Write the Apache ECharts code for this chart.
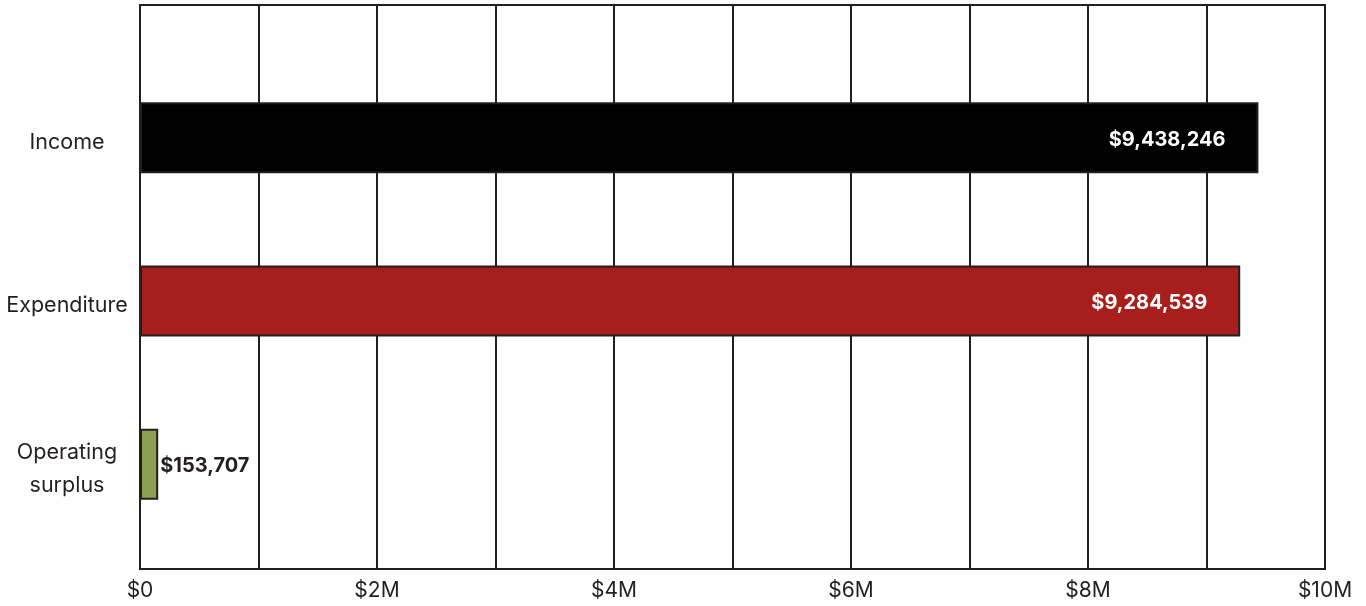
<!DOCTYPE html>
<html><head><meta charset="utf-8">
<script src="https://cdn.jsdelivr.net/npm/echarts@6/dist/echarts.min.js"></script>
<style>html,body{margin:0;padding:0;background:#fff}#c{width:1366px;height:606px}</style>
</head><body><div id="c"></div>
<script>
const categories = ['Income', 'Expenditure', 'Operating\nsurplus'];
const values = [9438246, 9284539, 153707];
const barColors = ['#000000', '#a81e1c', '#8c9e50'];
const valueLabels = ['$9,438,246', '$9,284,539', '$153,707'];
const tickLabels = ['$0', '$2M', '$4M', '$6M', '$8M', '$10M'];

const ink = '#231f20';
const font = 'Inter, "Noto Sans", sans-serif';
const chart = echarts.init(document.getElementById('c'));
chart.setOption({
  animation: false,
  grid: [
    {left: 140, right: 41, top: 5, bottom: 37, show: true, borderColor: ink, borderWidth: 2, backgroundColor: 'transparent'},
    {left: 140, right: 41, top: 56, bottom: 60}
  ],
  xAxis: [
    {gridIndex: 0, type: 'value', min: 0, max: 10000000, interval: 1000000,
     axisLine: {show: true, lineStyle: {color: ink, width: 2}},
     axisTick: {show: false},
     splitLine: {show: true, lineStyle: {color: ink, width: 2}},
     axisLabel: {margin: 11, color: ink, fontSize: 21, fontFamily: font,
       formatter: function (v) { const m = Math.round(v / 1000000); return m % 2 === 0 ? tickLabels[m / 2] : ''; }}},
    {gridIndex: 1, type: 'value', min: 0, max: 10000000, show: false}
  ],
  yAxis: [
    {gridIndex: 0, type: 'category', data: categories, show: false},
    {gridIndex: 1, type: 'category', data: categories, inverse: true,
     axisLine: {show: false}, axisTick: {show: false}, splitLine: {show: false},
     axisLabel: {margin: 73, align: 'center', color: ink, fontFamily: font,
       formatter: function (v) {
         return '{s| }\n' + v.split('\n').map(function (t) { return '{a|' + t + '}'; }).join('\n');
       },
       rich: {
         s: {fontSize: 4, lineHeight: 9},
         a: {fontSize: 21.5, lineHeight: 33, color: ink, fontFamily: font, align: 'center'}
       }}}
  ],
  series: [{
    type: 'bar', xAxisIndex: 1, yAxisIndex: 1, barWidth: 71,
    data: values.map((v, i) => ({
      value: v,
      itemStyle: {color: barColors[i], borderColor: ink, borderWidth: 2},
      label: {
        show: true,
        position: v > 1000000 ? 'insideRight' : 'right',
        distance: v > 1000000 ? 33 : 2,
        offset: [0, 2],
        color: v > 1000000 ? '#ffffff' : ink,
        fontWeight: 'bold', fontSize: 20, fontFamily: font,
        formatter: function () { return valueLabels[i]; }
      }
    }))
  }]
});
</script></body></html>
